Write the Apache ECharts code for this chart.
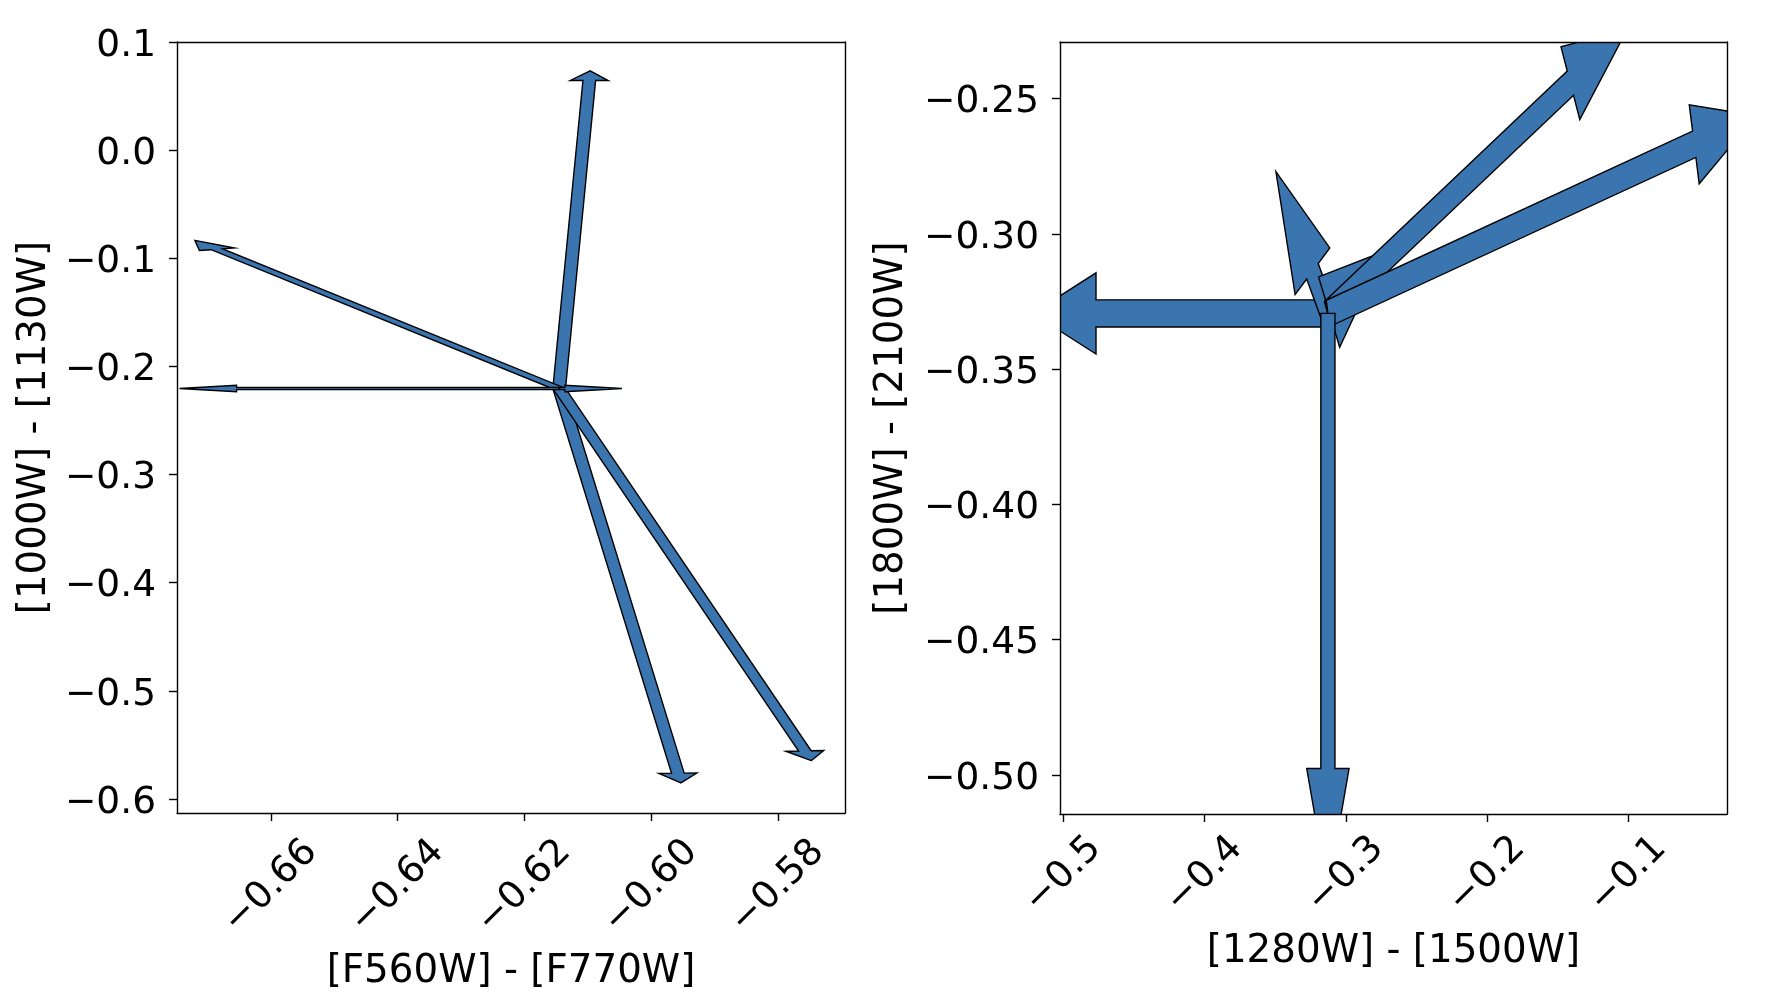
<!DOCTYPE html>
<html><head><meta charset="utf-8">
<script src="https://cdn.jsdelivr.net/npm/echarts@6/dist/echarts.min.js"></script>
<style>html,body{margin:0;padding:0;background:#fff}#c{width:1776px;height:1004px}</style>
</head><body><div id="c"></div>
<script>
// ---- Left panel: arrows (start x, start y, dx, dy) in data units ----
const leftX0 = [-0.6145, -0.6145, -0.6145, -0.6145, -0.6145, -0.6145];
const leftY0 = [-0.2205, -0.2205, -0.2205, -0.2205, -0.2205, -0.2205];
const leftDX = [0.00475, -0.0540, 0.01873, 0.03877, -0.0509, 0.0009];
const leftDY = [0.2849, 0.1288, -0.35571, -0.33506, 0, 0];
const leftXTicks = [-0.66, -0.64, -0.62, -0.60, -0.58];
const leftYTicks = [0.1, 0.0, -0.1, -0.2, -0.3, -0.4, -0.5, -0.6];
const leftXName = '[F560W] - [F770W]';
const leftYName = '[1000W] - [1130W]';

// ---- Right panel ----
const rightX0 = [-0.3127, -0.3127, -0.3127, -0.3127, -0.3127, -0.3127];
const rightY0 = [-0.3294, -0.3294, -0.3294, -0.3294, -0.3294, -0.3294];
const rightDX = [-0.1642, -0.01094, 0.00087, 0.1717, 0.2594, 0.0];
const rightDY = [0.0, 0.01557, 0.0005, 0.0851, 0.0625, -0.1682];
const rightXTicks = [-0.5, -0.4, -0.3, -0.2, -0.1];
const rightYTicks = [-0.25, -0.30, -0.35, -0.40, -0.45, -0.50];
const rightXName = '[1280W] - [1500W]';
const rightYName = '[1800W] - [2100W]';

const FONT = 'DejaVu Sans';
const FS = 37.5;
const FSN = 38.8;
const BLUE = '#3b75af';

function num(v, d) {
  const s = Math.abs(v).toFixed(d);
  return (v < -1e-9 ? '\u2212' : '') + s;
}
function fmt(d) { return v => num(v, d); }
function fmtRich(d) { return v => '{a|' + num(v, d) + '}'; }

// matplotlib FancyArrow geometry, computed in data space
function arrowRenderer(width, headW, headL) {
  return function (params, api) {
    const x = api.value(0), y = api.value(1), dx = api.value(2), dy = api.value(3);
    const dist = Math.hypot(dx, dy);
    const length = dist + headL;
    const hw = headW, hl = headL, lw = width;
    let half = [[0, 0], [-hl, -hw / 2], [-hl, -lw / 2], [-length, -lw / 2], [-length, 0]];
    half = half.map(p => [p[0] + hl, p[1]]);
    const right = half.map(p => [p[0], -p[1]]);
    const coords = half.slice(0, 4).concat(right.slice(0, 4).reverse());
    let cx = 0, sx = 1;
    if (dist !== 0) { cx = dx / dist; sx = dy / dist; }
    const pts = coords.map(p => {
      const vx = p[0] * cx - p[1] * sx + x + dx;
      const vy = p[0] * sx + p[1] * cx + y + dy;
      return api.coord([vx, vy]);
    });
    const cs = params.coordSys;
    return {
      type: 'polygon',
      shape: { points: pts },
      style: { fill: BLUE, stroke: '#000', lineWidth: 1.4, lineJoin: 'miter' },
      clipPath: { type: 'rect', shape: { x: cs.x, y: cs.y, width: cs.width, height: cs.height } }
    };
  };
}

function rows(a, b, c, d) { return a.map((v, i) => [v, b[i], c[i], d[i]]); }

const lineStyle = { color: '#000', width: 1.4 };
const labelStyle = { color: '#000', fontFamily: FONT, fontSize: FS };
const nameStyle = { color: '#000', fontFamily: FONT, fontSize: FSN };

function mainX(grid, min, max, ticks, dec, margin, name, gap) {
  return {
    type: 'value', gridIndex: grid, position: 'bottom', min, max, z: 5,
    splitLine: { show: false },
    axisLine: { show: true, onZero: false, lineStyle },
    axisTick: { show: true, length: 8, lineStyle, customValues: ticks },
    axisLabel: Object.assign({ customValues: ticks, formatter: fmt(dec), rotate: 45, align: 'center', verticalAlign: 'middle', margin }, labelStyle),
    name, nameLocation: 'middle', nameGap: gap,
    nameTextStyle: Object.assign({ verticalAlign: 'middle' }, nameStyle)
  };
}
function mainY(grid, min, max, ticks, dec, name, gap) {
  return {
    type: 'value', gridIndex: grid, position: 'left', min, max, z: 5,
    splitLine: { show: false },
    axisLine: { show: true, onZero: false, lineStyle },
    axisTick: { show: true, length: 8, lineStyle, customValues: ticks },
    axisLabel: Object.assign({
      customValues: ticks, formatter: fmtRich(dec), margin: 21,
      rich: { a: Object.assign({ padding: [8, 0, 0, 0] }, labelStyle) }
    }, labelStyle),
    name, nameLocation: 'middle', nameGap: gap, nameRotate: 90,
    nameTextStyle: Object.assign({ verticalAlign: 'middle' }, nameStyle)
  };
}
function frameAxis(grid, pos, min, max) {
  return {
    type: 'value', gridIndex: grid, position: pos, min, max, z: 5,
    splitLine: { show: false },
    axisLine: { show: true, onZero: false, lineStyle },
    axisTick: { show: false }, axisLabel: { show: false }
  };
}

const LX = [-0.6748, -0.5694], LY = [-0.613, 0.1];
const RX = [-0.5024, -0.0301], RY = [-0.5144, -0.2291];

const option = {
  animation: false,
  backgroundColor: '#fff',
  grid: [
    { left: 177, top: 42, width: 668, height: 771 },
    { left: 1060, top: 42, width: 667, height: 772 }
  ],
  xAxis: [
    mainX(0, LX[0], LX[1], leftXTicks, 2, 74, leftXName, 159),
    mainX(1, RX[0], RX[1], rightXTicks, 1, 61, rightXName, 138),
    frameAxis(0, 'top', LX[0], LX[1]),
    frameAxis(1, 'top', RX[0], RX[1])
  ],
  yAxis: [
    mainY(0, LY[0], LY[1], leftYTicks, 1, leftYName, 142),
    mainY(1, RY[0], RY[1], rightYTicks, 2, rightYName, 168),
    frameAxis(0, 'right', LY[0], LY[1]),
    frameAxis(1, 'right', RY[0], RY[1])
  ],
  series: [
    { type: 'custom', xAxisIndex: 0, yAxisIndex: 0, renderItem: arrowRenderer(0.002, 0.006, 0.009),
      data: rows(leftX0, leftY0, leftDX, leftDY), z: 2 },
    { type: 'custom', xAxisIndex: 1, yAxisIndex: 1, renderItem: arrowRenderer(0.01, 0.03, 0.045),
      data: rows(rightX0, rightY0, rightDX, rightDY), z: 2 }
  ]
};
const chart = echarts.init(document.getElementById('c'), null, { renderer: 'canvas' });
chart.setOption(option);
</script></body></html>
